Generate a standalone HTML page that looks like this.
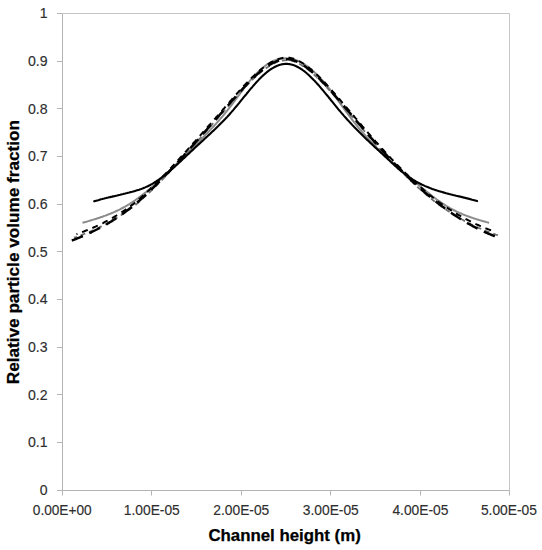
<!DOCTYPE html>
<html><head><meta charset="utf-8"><style>
html,body{margin:0;padding:0;background:#fff;}
body{width:542px;height:550px;overflow:hidden;}
svg{display:block;}
</style></head><body>
<svg width="542" height="550" viewBox="0 0 542 550">
<rect width="542" height="550" fill="#fff"/>
<path d="M62.5,13.5H509.5V490.5" fill="none" stroke="#c6c6c6" stroke-width="1"/>
<path d="M62.5,13.5V490.5H509.5" fill="none" stroke="#b4b4b4" stroke-width="1"/>
<path d="M57,490.5H62.5M57,442.5H62.5M57,394.5H62.5M57,347.5H62.5M57,299.5H62.5M57,251.5H62.5M57,204.5H62.5M57,156.5H62.5M57,108.5H62.5M57,61.5H62.5M57,13.5H62.5M62.5,490.5V495.5M151.5,490.5V495.5M241.5,490.5V495.5M330.5,490.5V495.5M420.5,490.5V495.5M509.5,490.5V495.5" fill="none" stroke="#b4b4b4" stroke-width="1"/>
<g font-family="&quot;Liberation Sans&quot;, sans-serif" font-size="14.8" fill="#2e2e2e" stroke="#2e2e2e" stroke-width="0.15"><text x="39.8" y="495.0" textLength="7.8" lengthAdjust="spacingAndGlyphs">0</text><text x="28.0" y="447.3" textLength="19.6" lengthAdjust="spacingAndGlyphs">0.1</text><text x="28.0" y="399.7" textLength="19.6" lengthAdjust="spacingAndGlyphs">0.2</text><text x="28.0" y="352.0" textLength="19.6" lengthAdjust="spacingAndGlyphs">0.3</text><text x="28.0" y="304.3" textLength="19.6" lengthAdjust="spacingAndGlyphs">0.4</text><text x="28.0" y="256.6" textLength="19.6" lengthAdjust="spacingAndGlyphs">0.5</text><text x="28.0" y="209.0" textLength="19.6" lengthAdjust="spacingAndGlyphs">0.6</text><text x="28.0" y="161.3" textLength="19.6" lengthAdjust="spacingAndGlyphs">0.7</text><text x="28.0" y="113.6" textLength="19.6" lengthAdjust="spacingAndGlyphs">0.8</text><text x="28.0" y="66.0" textLength="19.6" lengthAdjust="spacingAndGlyphs">0.9</text><text x="39.8" y="18.3" textLength="7.8" lengthAdjust="spacingAndGlyphs">1</text><text x="32.8" y="515.1" textLength="58.8" lengthAdjust="spacingAndGlyphs">0.00E+00</text><text x="123.8" y="515.1" textLength="56.0" lengthAdjust="spacingAndGlyphs">1.00E-05</text><text x="213.3" y="515.1" textLength="56.0" lengthAdjust="spacingAndGlyphs">2.00E-05</text><text x="302.8" y="515.1" textLength="56.0" lengthAdjust="spacingAndGlyphs">3.00E-05</text><text x="392.4" y="515.1" textLength="56.0" lengthAdjust="spacingAndGlyphs">4.00E-05</text><text x="480.9" y="515.1" textLength="56.0" lengthAdjust="spacingAndGlyphs">5.00E-05</text></g>
<text x="208.4" y="540.6" textLength="152.4" lengthAdjust="spacingAndGlyphs" font-family="&quot;Liberation Sans&quot;, sans-serif" font-weight="bold" font-size="16" fill="#000" stroke="#000" stroke-width="0.25">Channel height (m)</text>
<text transform="translate(19.3,384.2) rotate(-90)" x="0" y="0" textLength="264.2" lengthAdjust="spacingAndGlyphs" font-family="&quot;Liberation Sans&quot;, sans-serif" font-weight="bold" font-size="16.2" fill="#000" stroke="#000" stroke-width="0.25">Relative particle volume fraction</text>
<path d="M82.5,222.8L83.5,222.5L84.5,222.2L85.5,221.9L86.5,221.7L87.5,221.4L88.5,221.1L89.5,220.8L90.5,220.5L91.5,220.2L92.5,219.9L93.5,219.6L94.5,219.3L95.5,219.0L96.5,218.7L97.5,218.3L98.5,218.0L99.5,217.7L100.5,217.3L101.5,217.0L102.5,216.7L103.5,216.3L104.5,215.9L105.5,215.6L106.5,215.2L107.5,214.8L108.5,214.4L109.5,214.0L110.5,213.6L111.5,213.2L112.5,212.8L113.5,212.4L114.5,211.9L115.5,211.5L116.5,211.0L117.5,210.5L118.5,210.1L119.5,209.6L120.5,209.1L121.5,208.5L122.5,208.0L123.5,207.5L124.5,206.9L125.5,206.4L126.5,205.8L127.5,205.2L128.5,204.6L129.5,204.0L130.5,203.4L131.5,202.7L132.5,202.1L133.5,201.4L134.5,200.7L135.5,200.0L136.5,199.3L137.5,198.6L138.5,197.9L139.5,197.1L140.5,196.4L141.5,195.6L142.5,194.9L143.5,194.1L144.5,193.3L145.5,192.5L146.5,191.7L147.5,190.8L148.5,190.0L149.5,189.2L150.5,188.3L151.5,187.4L152.5,186.6L153.5,185.7L154.5,184.8L155.5,183.9L156.5,183.0L157.5,182.1L158.5,181.2L159.5,180.3L160.5,179.3L161.5,178.4L162.5,177.5L163.5,176.5L164.5,175.6L165.5,174.6L166.5,173.7L167.5,172.7L168.5,171.7L169.5,170.8L170.5,169.8L171.5,168.8L172.5,167.8L173.5,166.8L174.5,165.9L175.5,164.9L176.5,163.9L177.5,162.9L178.5,161.9L179.5,160.9L180.5,159.9L181.5,158.9L182.5,157.9L183.5,156.9L184.5,155.9L185.5,154.9L186.5,153.9L187.5,152.9L188.5,151.9L189.5,150.9L190.5,149.9L191.5,148.9L192.5,147.9L193.5,146.9L194.5,145.9L195.5,144.9L196.5,144.0L197.5,143.0L198.5,142.0L199.5,141.0L200.5,140.0L201.5,139.0L202.5,138.0L203.5,136.9L204.5,135.9L205.5,134.9L206.5,133.9L207.5,132.8L208.5,131.8L209.5,130.8L210.5,129.7L211.5,128.6L212.5,127.6L213.5,126.5L214.5,125.4L215.5,124.3L216.5,123.2L217.5,122.1L218.5,121.0L219.5,119.8L220.5,118.7L221.5,117.5L222.5,116.3L223.5,115.1L224.5,113.9L225.5,112.7L226.5,111.5L227.5,110.2L228.5,109.0L229.5,107.7L230.5,106.4L231.5,105.1L232.5,103.8L233.5,102.4L234.5,101.1L235.5,99.7L236.5,98.4L237.5,97.0L238.5,95.7L239.5,94.3L240.5,93.0L241.5,91.6L242.5,90.3L243.5,88.9L244.5,87.6L245.5,86.3L246.5,85.0L247.5,83.8L248.5,82.5L249.5,81.3L250.5,80.1L251.5,78.9L252.5,77.8L253.5,76.7L254.5,75.6L255.5,74.5L256.5,73.5L257.5,72.5L258.5,71.5L259.5,70.6L260.5,69.7L261.5,68.8L262.5,67.9L263.5,67.1L264.5,66.3L265.5,65.6L266.5,64.9L267.5,64.2L268.5,63.6L269.5,63.0L270.5,62.4L271.5,61.9L272.5,61.4L273.5,60.9L274.5,60.5L275.5,60.1L276.5,59.8L277.5,59.5L278.5,59.2L279.5,59.0L280.5,58.8L281.5,58.6L282.5,58.5L283.5,58.4L284.5,58.3L285.5,58.3L286.5,58.3L287.5,58.4L288.5,58.4L289.5,58.6L290.5,58.7L291.5,58.9L292.5,59.1L293.5,59.4L294.5,59.7L295.5,60.0L296.5,60.3L297.5,60.7L298.5,61.1L299.5,61.6L300.5,62.1L301.5,62.6L302.5,63.2L303.5,63.8L304.5,64.4L305.5,65.0L306.5,65.7L307.5,66.4L308.5,67.2L309.5,68.0L310.5,68.8L311.5,69.6L312.5,70.5L313.5,71.3L314.5,72.3L315.5,73.2L316.5,74.2L317.5,75.2L318.5,76.2L319.5,77.2L320.5,78.3L321.5,79.4L322.5,80.5L323.5,81.6L324.5,82.8L325.5,84.0L326.5,85.2L327.5,86.4L328.5,87.7L329.5,88.9L330.5,90.2L331.5,91.5L332.5,92.8L333.5,94.2L334.5,95.5L335.5,96.9L336.5,98.3L337.5,99.7L338.5,101.0L339.5,102.4L340.5,103.8L341.5,105.2L342.5,106.6L343.5,108.0L344.5,109.4L345.5,110.8L346.5,112.2L347.5,113.5L348.5,114.9L349.5,116.2L350.5,117.5L351.5,118.9L352.5,120.1L353.5,121.4L354.5,122.7L355.5,123.9L356.5,125.2L357.5,126.4L358.5,127.6L359.5,128.8L360.5,130.0L361.5,131.2L362.5,132.3L363.5,133.5L364.5,134.6L365.5,135.7L366.5,136.8L367.5,137.9L368.5,139.0L369.5,140.1L370.5,141.2L371.5,142.2L372.5,143.3L373.5,144.3L374.5,145.3L375.5,146.3L376.5,147.4L377.5,148.4L378.5,149.3L379.5,150.3L380.5,151.3L381.5,152.3L382.5,153.2L383.5,154.2L384.5,155.1L385.5,156.1L386.5,157.0L387.5,157.9L388.5,158.8L389.5,159.8L390.5,160.7L391.5,161.6L392.5,162.5L393.5,163.4L394.5,164.3L395.5,165.1L396.5,166.0L397.5,166.9L398.5,167.8L399.5,168.7L400.5,169.5L401.5,170.4L402.5,171.3L403.5,172.1L404.5,173.0L405.5,173.8L406.5,174.7L407.5,175.6L408.5,176.4L409.5,177.3L410.5,178.1L411.5,179.0L412.5,179.8L413.5,180.7L414.5,181.5L415.5,182.4L416.5,183.2L417.5,184.1L418.5,184.9L419.5,185.8L420.5,186.6L421.5,187.4L422.5,188.3L423.5,189.1L424.5,189.9L425.5,190.7L426.5,191.5L427.5,192.3L428.5,193.1L429.5,193.9L430.5,194.7L431.5,195.5L432.5,196.3L433.5,197.0L434.5,197.8L435.5,198.5L436.5,199.3L437.5,200.0L438.5,200.7L439.5,201.4L440.5,202.1L441.5,202.8L442.5,203.4L443.5,204.1L444.5,204.7L445.5,205.4L446.5,206.0L447.5,206.6L448.5,207.2L449.5,207.8L450.5,208.4L451.5,208.9L452.5,209.4L453.5,210.0L454.5,210.5L455.5,211.0L456.5,211.5L457.5,211.9L458.5,212.4L459.5,212.9L460.5,213.3L461.5,213.7L462.5,214.2L463.5,214.6L464.5,215.0L465.5,215.4L466.5,215.7L467.5,216.1L468.5,216.5L469.5,216.8L470.5,217.2L471.5,217.5L472.5,217.9L473.5,218.2L474.5,218.5L475.5,218.9L476.5,219.2L477.5,219.5L478.5,219.8L479.5,220.1L480.5,220.4L481.5,220.7L482.5,221.0L483.5,221.2L484.5,221.5L485.5,221.8L486.5,222.1L487.5,222.4L488.5,222.7L489.1,222.8" fill="none" stroke="#8c8c8c" stroke-width="2"/>
<path d="M74.0,237.7L75.0,237.3L76.0,237.0L77.0,236.6L78.0,236.3L79.0,235.9L80.0,235.5L81.0,235.2L82.0,234.8L83.0,234.4L84.0,234.0L85.0,233.6L86.0,233.2L87.0,232.8L88.0,232.4L89.0,232.0L90.0,231.6L91.0,231.2L92.0,230.7L93.0,230.3L94.0,229.9L95.0,229.4L96.0,229.0L97.0,228.5L98.0,228.0L99.0,227.6L100.0,227.1L101.0,226.6L102.0,226.1L103.0,225.6L104.0,225.1L105.0,224.6L106.0,224.1L107.0,223.5L108.0,223.0L109.0,222.5L110.0,221.9L111.0,221.4L112.0,220.8L113.0,220.2L114.0,219.6L115.0,219.0L116.0,218.4L117.0,217.8L118.0,217.2L119.0,216.6L120.0,215.9L121.0,215.3L122.0,214.6L123.0,214.0L124.0,213.3L125.0,212.6L126.0,211.9L127.0,211.2L128.0,210.5L129.0,209.8L130.0,209.1L131.0,208.3L132.0,207.6L133.0,206.8L134.0,206.1L135.0,205.3L136.0,204.5L137.0,203.6L138.0,202.8L139.0,201.9L140.0,201.0L141.0,200.1L142.0,199.2L143.0,198.3L144.0,197.4L145.0,196.5L146.0,195.6L147.0,194.7L148.0,193.7L149.0,192.8L150.0,191.8L151.0,190.9L152.0,189.9L153.0,188.9L154.0,188.0L155.0,187.0L156.0,186.0L157.0,185.0L158.0,184.0L159.0,183.0L160.0,182.0L161.0,180.9L162.0,179.9L163.0,178.9L164.0,177.8L165.0,176.8L166.0,175.8L167.0,174.7L168.0,173.6L169.0,172.6L170.0,171.5L171.0,170.4L172.0,169.4L173.0,168.3L174.0,167.2L175.0,166.1L176.0,165.0L177.0,164.0L178.0,162.9L179.0,161.8L180.0,160.7L181.0,159.6L182.0,158.5L183.0,157.3L184.0,156.2L185.0,155.1L186.0,154.0L187.0,152.9L188.0,151.8L189.0,150.7L190.0,149.5L191.0,148.4L192.0,147.3L193.0,146.2L194.0,145.0L195.0,143.9L196.0,142.8L197.0,141.7L198.0,140.5L199.0,139.4L200.0,138.3L201.0,137.1L202.0,136.0L203.0,134.9L204.0,133.7L205.0,132.6L206.0,131.5L207.0,130.3L208.0,129.2L209.0,128.1L210.0,126.9L211.0,125.8L212.0,124.7L213.0,123.5L214.0,122.4L215.0,121.2L216.0,120.1L217.0,119.0L218.0,117.8L219.0,116.7L220.0,115.5L221.0,114.4L222.0,113.2L223.0,112.1L224.0,111.0L225.0,109.8L226.0,108.7L227.0,107.5L228.0,106.4L229.0,105.2L230.0,104.1L231.0,103.0L232.0,101.8L233.0,100.7L234.0,99.5L235.0,98.4L236.0,97.3L237.0,96.1L238.0,95.0L239.0,93.9L240.0,92.8L241.0,91.7L242.0,90.6L243.0,89.5L244.0,88.4L245.0,87.3L246.0,86.3L247.0,85.2L248.0,84.2L249.0,83.2L250.0,82.1L251.0,81.1L252.0,80.2L253.0,79.2L254.0,78.2L255.0,77.3L256.0,76.4L257.0,75.5L258.0,74.6L259.0,73.7L260.0,72.9L261.0,72.0L262.0,71.2L263.0,70.4L264.0,69.7L265.0,68.9L266.0,68.2L267.0,67.5L268.0,66.9L269.0,66.2L270.0,65.6L271.0,65.0L272.0,64.5L273.0,63.9L274.0,63.4L275.0,63.0L276.0,62.5L277.0,62.1L278.0,61.8L279.0,61.4L280.0,61.1L281.0,60.9L282.0,60.7L283.0,60.5L284.0,60.4L285.0,60.3L286.0,60.2L287.0,60.2L288.0,60.3L289.0,60.4L290.0,60.5L291.0,60.7L292.0,60.9L293.0,61.2L294.0,61.5L295.0,61.9L296.0,62.3L297.0,62.7L298.0,63.2L299.0,63.7L300.0,64.3L301.0,64.8L302.0,65.4L303.0,66.1L304.0,66.7L305.0,67.4L306.0,68.1L307.0,68.8L308.0,69.6L309.0,70.4L310.0,71.2L311.0,72.0L312.0,72.8L313.0,73.7L314.0,74.6L315.0,75.5L316.0,76.4L317.0,77.4L318.0,78.3L319.0,79.3L320.0,80.3L321.0,81.3L322.0,82.3L323.0,83.3L324.0,84.4L325.0,85.5L326.0,86.5L327.0,87.6L328.0,88.7L329.0,89.8L330.0,90.9L331.0,92.1L332.0,93.2L333.0,94.3L334.0,95.5L335.0,96.6L336.0,97.8L337.0,98.9L338.0,100.1L339.0,101.3L340.0,102.4L341.0,103.6L342.0,104.8L343.0,105.9L344.0,107.1L345.0,108.3L346.0,109.5L347.0,110.6L348.0,111.8L349.0,113.0L350.0,114.2L351.0,115.4L352.0,116.5L353.0,117.7L354.0,118.9L355.0,120.1L356.0,121.3L357.0,122.4L358.0,123.6L359.0,124.8L360.0,125.9L361.0,127.1L362.0,128.3L363.0,129.5L364.0,130.6L365.0,131.8L366.0,133.0L367.0,134.1L368.0,135.3L369.0,136.4L370.0,137.6L371.0,138.7L372.0,139.9L373.0,141.0L374.0,142.2L375.0,143.3L376.0,144.4L377.0,145.6L378.0,146.7L379.0,147.8L380.0,148.9L381.0,150.0L382.0,151.2L383.0,152.3L384.0,153.4L385.0,154.5L386.0,155.6L387.0,156.6L388.0,157.7L389.0,158.8L390.0,159.9L391.0,160.9L392.0,162.0L393.0,163.0L394.0,164.1L395.0,165.1L396.0,166.2L397.0,167.2L398.0,168.2L399.0,169.2L400.0,170.2L401.0,171.2L402.0,172.2L403.0,173.2L404.0,174.2L405.0,175.2L406.0,176.2L407.0,177.2L408.0,178.1L409.0,179.1L410.0,180.0L411.0,181.0L412.0,181.9L413.0,182.8L414.0,183.8L415.0,184.7L416.0,185.6L417.0,186.5L418.0,187.4L419.0,188.3L420.0,189.2L421.0,190.1L422.0,191.0L423.0,191.8L424.0,192.7L425.0,193.6L426.0,194.4L427.0,195.3L428.0,196.1L429.0,196.9L430.0,197.8L431.0,198.6L432.0,199.4L433.0,200.2L434.0,201.0L435.0,201.8L436.0,202.6L437.0,203.3L438.0,204.0L439.0,204.7L440.0,205.4L441.0,206.2L442.0,206.9L443.0,207.5L444.0,208.2L445.0,208.9L446.0,209.6L447.0,210.3L448.0,210.9L449.0,211.6L450.0,212.2L451.0,212.9L452.0,213.5L453.0,214.1L454.0,214.7L455.0,215.4L456.0,216.0L457.0,216.6L458.0,217.2L459.0,217.8L460.0,218.3L461.0,218.9L462.0,219.5L463.0,220.0L464.0,220.6L465.0,221.1L466.0,221.7L467.0,222.2L468.0,222.7L469.0,223.3L470.0,223.8L471.0,224.3L472.0,224.8L473.0,225.3L474.0,225.7L475.0,226.2L476.0,226.7L477.0,227.2L478.0,227.6L479.0,228.1L480.0,228.5L481.0,228.9L482.0,229.4L483.0,229.8L484.0,230.2L485.0,230.6L486.0,231.0L487.0,231.4L488.0,231.8L489.0,232.2L490.0,232.5L491.0,232.9L492.0,233.3L493.0,233.6L494.0,233.9L495.0,234.3L496.0,234.7L497.0,235.0L498.0,235.4" fill="none" stroke="#707070" stroke-width="1.8" stroke-dasharray="5 4" stroke-dashoffset="2"/>
<path d="M76.5,234.2L77.5,233.8L78.5,233.5L79.5,233.1L80.5,232.7L81.5,232.4L82.5,232.0L83.5,231.6L84.5,231.2L85.5,230.8L86.5,230.4L87.5,230.0L88.5,229.6L89.5,229.2L90.5,228.8L91.5,228.4L92.5,227.9L93.5,227.5L94.5,227.0L95.5,226.6L96.5,226.1L97.5,225.7L98.5,225.2L99.5,224.7L100.5,224.2L101.5,223.8L102.5,223.3L103.5,222.8L104.5,222.2L105.5,221.7L106.5,221.2L107.5,220.7L108.5,220.1L109.5,219.6L110.5,219.0L111.5,218.5L112.5,217.9L113.5,217.3L114.5,216.7L115.5,216.1L116.5,215.5L117.5,214.9L118.5,214.3L119.5,213.7L120.5,213.0L121.5,212.4L122.5,211.7L123.5,211.1L124.5,210.4L125.5,209.7L126.5,209.0L127.5,208.3L128.5,207.6L129.5,206.9L130.5,206.1L131.5,205.4L132.5,204.6L133.5,203.9L134.5,203.1L135.5,202.3L136.5,201.4L137.5,200.6L138.5,199.7L139.5,198.9L140.5,198.0L141.5,197.1L142.5,196.2L143.5,195.3L144.5,194.4L145.5,193.5L146.5,192.5L147.5,191.6L148.5,190.7L149.5,189.7L150.5,188.8L151.5,187.8L152.5,186.8L153.5,185.9L154.5,184.9L155.5,183.9L156.5,182.9L157.5,181.9L158.5,180.9L159.5,179.9L160.5,178.9L161.5,177.8L162.5,176.8L163.5,175.8L164.5,174.7L165.5,173.7L166.5,172.6L167.5,171.6L168.5,170.5L169.5,169.5L170.5,168.4L171.5,167.3L172.5,166.2L173.5,165.2L174.5,164.1L175.5,163.0L176.5,161.9L177.5,160.8L178.5,159.7L179.5,158.6L180.5,157.5L181.5,156.4L182.5,155.3L183.5,154.2L184.5,153.1L185.5,152.0L186.5,150.9L187.5,149.7L188.5,148.6L189.5,147.5L190.5,146.4L191.5,145.3L192.5,144.1L193.5,143.0L194.5,141.9L195.5,140.8L196.5,139.6L197.5,138.5L198.5,137.4L199.5,136.2L200.5,135.1L201.5,134.0L202.5,132.8L203.5,131.7L204.5,130.6L205.5,129.4L206.5,128.3L207.5,127.2L208.5,126.0L209.5,124.9L210.5,123.8L211.5,122.6L212.5,121.5L213.5,120.3L214.5,119.2L215.5,118.1L216.5,116.9L217.5,115.8L218.5,114.6L219.5,113.5L220.5,112.4L221.5,111.2L222.5,110.1L223.5,108.9L224.5,107.8L225.5,106.6L226.5,105.5L227.5,104.4L228.5,103.2L229.5,102.1L230.5,100.9L231.5,99.8L232.5,98.6L233.5,97.5L234.5,96.4L235.5,95.2L236.5,94.1L237.5,93.0L238.5,91.9L239.5,90.7L240.5,89.6L241.5,88.5L242.5,87.4L243.5,86.3L244.5,85.3L245.5,84.2L246.5,83.1L247.5,82.1L248.5,81.1L249.5,80.1L250.5,79.0L251.5,78.0L252.5,77.1L253.5,76.1L254.5,75.2L255.5,74.2L256.5,73.3L257.5,72.4L258.5,71.5L259.5,70.7L260.5,69.8L261.5,69.0L262.5,68.2L263.5,67.5L264.5,66.7L265.5,66.0L266.5,65.3L267.5,64.6L268.5,63.9L269.5,63.3L270.5,62.7L271.5,62.1L272.5,61.6L273.5,61.1L274.5,60.6L275.5,60.1L276.5,59.7L277.5,59.3L278.5,59.0L279.5,58.7L280.5,58.4L281.5,58.2L282.5,58.0L283.5,57.8L284.5,57.7L285.5,57.6L286.5,57.6L287.5,57.6L288.5,57.7L289.5,57.8L290.5,58.0L291.5,58.2L292.5,58.5L293.5,58.8L294.5,59.1L295.5,59.5L296.5,59.9L297.5,60.4L298.5,60.9L299.5,61.4L300.5,61.9L301.5,62.5L302.5,63.1L303.5,63.8L304.5,64.5L305.5,65.1L306.5,65.9L307.5,66.6L308.5,67.4L309.5,68.2L310.5,69.0L311.5,69.8L312.5,70.7L313.5,71.5L314.5,72.4L315.5,73.3L316.5,74.3L317.5,75.2L318.5,76.2L319.5,77.2L320.5,78.2L321.5,79.2L322.5,80.2L323.5,81.3L324.5,82.3L325.5,83.4L326.5,84.5L327.5,85.6L328.5,86.7L329.5,87.8L330.5,88.9L331.5,90.0L332.5,91.2L333.5,92.3L334.5,93.4L335.5,94.6L336.5,95.8L337.5,96.9L338.5,98.1L339.5,99.2L340.5,100.4L341.5,101.6L342.5,102.8L343.5,103.9L344.5,105.1L345.5,106.3L346.5,107.5L347.5,108.6L348.5,109.8L349.5,111.0L350.5,112.2L351.5,113.4L352.5,114.5L353.5,115.7L354.5,116.9L355.5,118.1L356.5,119.2L357.5,120.4L358.5,121.6L359.5,122.8L360.5,123.9L361.5,125.1L362.5,126.3L363.5,127.4L364.5,128.6L365.5,129.8L366.5,130.9L367.5,132.1L368.5,133.3L369.5,134.4L370.5,135.6L371.5,136.7L372.5,137.9L373.5,139.0L374.5,140.1L375.5,141.3L376.5,142.4L377.5,143.5L378.5,144.7L379.5,145.8L380.5,146.9L381.5,148.0L382.5,149.1L383.5,150.2L384.5,151.3L385.5,152.4L386.5,153.5L387.5,154.6L388.5,155.7L389.5,156.7L390.5,157.8L391.5,158.9L392.5,159.9L393.5,161.0L394.5,162.0L395.5,163.0L396.5,164.1L397.5,165.1L398.5,166.1L399.5,167.1L400.5,168.1L401.5,169.1L402.5,170.1L403.5,171.1L404.5,172.1L405.5,173.1L406.5,174.1L407.5,175.0L408.5,176.0L409.5,176.9L410.5,177.9L411.5,178.8L412.5,179.8L413.5,180.7L414.5,181.6L415.5,182.5L416.5,183.5L417.5,184.4L418.5,185.3L419.5,186.2L420.5,187.0L421.5,187.9L422.5,188.8L423.5,189.7L424.5,190.5L425.5,191.4L426.5,192.2L427.5,193.1L428.5,193.9L429.5,194.8L430.5,195.6L431.5,196.4L432.5,197.2L433.5,198.0L434.5,198.8L435.5,199.6L436.5,200.3L437.5,201.0L438.5,201.8L439.5,202.5L440.5,203.2L441.5,203.9L442.5,204.6L443.5,205.3L444.5,206.0L445.5,206.7L446.5,207.3L447.5,208.0L448.5,208.6L449.5,209.3L450.5,209.9L451.5,210.6L452.5,211.2L453.5,211.8L454.5,212.5L455.5,213.1L456.5,213.7L457.5,214.3L458.5,214.9L459.5,215.4L460.5,216.0L461.5,216.6L462.5,217.2L463.5,217.7L464.5,218.3L465.5,218.8L466.5,219.3L467.5,219.9L468.5,220.4L469.5,220.9L470.5,221.4L471.5,221.9L472.5,222.4L473.5,222.9L474.5,223.4L475.5,223.9L476.5,224.3L477.5,224.8L478.5,225.2L479.5,225.7L480.5,226.1L481.5,226.6L482.5,227.0L483.5,227.4L484.5,227.8L485.5,228.2L486.5,228.6L487.5,229.0L488.5,229.4L489.5,229.7L490.5,230.1L491.5,230.5L492.5,230.8L493.5,231.2L494.5,231.5L495.5,231.9" fill="none" stroke="#000" stroke-width="2" stroke-dasharray="6 5" stroke-dashoffset="5"/>
<path d="M71.8,240.6L72.8,240.2L73.8,239.8L74.8,239.4L75.8,239.0L76.8,238.6L77.8,238.2L78.8,237.8L79.8,237.4L80.8,236.9L81.8,236.5L82.8,236.1L83.8,235.7L84.8,235.2L85.8,234.8L86.8,234.3L87.8,233.9L88.8,233.4L89.8,232.9L90.8,232.5L91.8,232.0L92.8,231.5L93.8,231.0L94.8,230.5L95.8,230.0L96.8,229.5L97.8,229.0L98.8,228.5L99.8,227.9L100.8,227.4L101.8,226.9L102.8,226.3L103.8,225.8L104.8,225.2L105.8,224.6L106.8,224.1L107.8,223.5L108.8,222.9L109.8,222.3L110.8,221.7L111.8,221.1L112.8,220.4L113.8,219.8L114.8,219.2L115.8,218.5L116.8,217.9L117.8,217.2L118.8,216.5L119.8,215.8L120.8,215.1L121.8,214.4L122.8,213.7L123.8,213.0L124.8,212.3L125.8,211.5L126.8,210.8L127.8,210.0L128.8,209.3L129.8,208.5L130.8,207.7L131.8,206.9L132.8,206.1L133.8,205.3L134.8,204.5L135.8,203.6L136.8,202.8L137.8,201.9L138.8,201.1L139.8,200.2L140.8,199.3L141.8,198.4L142.8,197.5L143.8,196.6L144.8,195.7L145.8,194.8L146.8,193.9L147.8,192.9L148.8,192.0L149.8,191.0L150.8,190.1L151.8,189.1L152.8,188.1L153.8,187.2L154.8,186.2L155.8,185.2L156.8,184.2L157.8,183.2L158.8,182.2L159.8,181.2L160.8,180.1L161.8,179.1L162.8,178.1L163.8,177.1L164.8,176.0L165.8,175.0L166.8,173.9L167.8,172.9L168.8,171.8L169.8,170.7L170.8,169.7L171.8,168.6L172.8,167.5L173.8,166.4L174.8,165.3L175.8,164.3L176.8,163.2L177.8,162.1L178.8,161.0L179.8,159.9L180.8,158.8L181.8,157.7L182.8,156.6L183.8,155.5L184.8,154.3L185.8,153.2L186.8,152.1L187.8,151.0L188.8,149.9L189.8,148.8L190.8,147.6L191.8,146.5L192.8,145.4L193.8,144.3L194.8,143.1L195.8,142.0L196.8,140.9L197.8,139.8L198.8,138.6L199.8,137.5L200.8,136.4L201.8,135.2L202.8,134.1L203.8,133.0L204.8,131.8L205.8,130.7L206.8,129.6L207.8,128.4L208.8,127.3L209.8,126.2L210.8,125.0L211.8,123.9L212.8,122.7L213.8,121.6L214.8,120.5L215.8,119.3L216.8,118.2L217.8,117.0L218.8,115.9L219.8,114.8L220.8,113.6L221.8,112.5L222.8,111.3L223.8,110.2L224.8,109.0L225.8,107.9L226.8,106.8L227.8,105.6L228.8,104.5L229.8,103.3L230.8,102.2L231.8,101.0L232.8,99.9L233.8,98.8L234.8,97.6L235.8,96.5L236.8,95.4L237.8,94.2L238.8,93.1L239.8,92.0L240.8,90.9L241.8,89.8L242.8,88.7L243.8,87.6L244.8,86.5L245.8,85.5L246.8,84.4L247.8,83.4L248.8,82.4L249.8,81.3L250.8,80.3L251.8,79.4L252.8,78.4L253.8,77.4L254.8,76.5L255.8,75.6L256.8,74.6L257.8,73.8L258.8,72.9L259.8,72.0L260.8,71.2L261.8,70.4L262.8,69.6L263.8,68.8L264.8,68.1L265.8,67.4L266.8,66.7L267.8,66.0L268.8,65.4L269.8,64.7L270.8,64.1L271.8,63.6L272.8,63.0L273.8,62.5L274.8,62.1L275.8,61.6L276.8,61.2L277.8,60.8L278.8,60.5L279.8,60.2L280.8,59.9L281.8,59.7L282.8,59.5L283.8,59.4L284.8,59.3L285.8,59.2L286.8,59.2L287.8,59.3L288.8,59.3L289.8,59.5L290.8,59.6L291.8,59.9L292.8,60.1L293.8,60.5L294.8,60.8L295.8,61.2L296.8,61.6L297.8,62.1L298.8,62.6L299.8,63.2L300.8,63.7L301.8,64.3L302.8,64.9L303.8,65.6L304.8,66.3L305.8,67.0L306.8,67.7L307.8,68.4L308.8,69.2L309.8,70.0L310.8,70.8L311.8,71.7L312.8,72.5L313.8,73.4L314.8,74.3L315.8,75.2L316.8,76.2L317.8,77.1L318.8,78.1L319.8,79.1L320.8,80.1L321.8,81.1L322.8,82.1L323.8,83.2L324.8,84.2L325.8,85.3L326.8,86.4L327.8,87.5L328.8,88.6L329.8,89.7L330.8,90.8L331.8,92.0L332.8,93.1L333.8,94.2L334.8,95.4L335.8,96.5L336.8,97.7L337.8,98.9L338.8,100.0L339.8,101.2L340.8,102.4L341.8,103.5L342.8,104.7L343.8,105.9L344.8,107.1L345.8,108.2L346.8,109.4L347.8,110.6L348.8,111.8L349.8,112.9L350.8,114.1L351.8,115.3L352.8,116.5L353.8,117.7L354.8,118.8L355.8,120.0L356.8,121.2L357.8,122.4L358.8,123.5L359.8,124.7L360.8,125.9L361.8,127.1L362.8,128.2L363.8,129.4L364.8,130.6L365.8,131.7L366.8,132.9L367.8,134.0L368.8,135.2L369.8,136.4L370.8,137.5L371.8,138.7L372.8,139.8L373.8,140.9L374.8,142.1L375.8,143.2L376.8,144.3L377.8,145.5L378.8,146.6L379.8,147.7L380.8,148.8L381.8,149.9L382.8,151.0L383.8,152.1L384.8,153.2L385.8,154.3L386.8,155.4L387.8,156.5L388.8,157.6L389.8,158.6L390.8,159.7L391.8,160.8L392.8,161.8L393.8,162.9L394.8,163.9L395.8,165.0L396.8,166.0L397.8,167.0L398.8,168.0L399.8,169.0L400.8,170.0L401.8,171.0L402.8,172.0L403.8,173.0L404.8,174.0L405.8,175.0L406.8,176.0L407.8,176.9L408.8,177.9L409.8,178.8L410.8,179.8L411.8,180.7L412.8,181.7L413.8,182.6L414.8,183.5L415.8,184.4L416.8,185.3L417.8,186.2L418.8,187.1L419.8,188.0L420.8,188.9L421.8,189.8L422.8,190.7L423.8,191.5L424.8,192.4L425.8,193.2L426.8,194.1L427.8,194.9L428.8,195.8L429.8,196.6L430.8,197.4L431.8,198.2L432.8,199.1L433.8,199.9L434.8,200.7L435.8,201.4L436.8,202.2L437.8,203.0L438.8,203.8L439.8,204.5L440.8,205.3L441.8,206.1L442.8,206.8L443.8,207.5L444.8,208.3L445.8,209.0L446.8,209.7L447.8,210.4L448.8,211.1L449.8,211.8L450.8,212.5L451.8,213.2L452.8,213.9L453.8,214.6L454.8,215.2L455.8,215.9L456.8,216.5L457.8,217.2L458.8,217.8L459.8,218.5L460.8,219.1L461.8,219.7L462.8,220.3L463.8,220.9L464.8,221.5L465.8,222.1L466.8,222.7L467.8,223.3L468.8,223.8L469.8,224.4L470.8,225.0L471.8,225.5L472.8,226.1L473.8,226.6L474.8,227.1L475.8,227.6L476.8,228.2L477.8,228.7L478.8,229.2L479.8,229.7L480.8,230.1L481.8,230.6L482.8,231.1L483.8,231.6L484.8,232.0L485.8,232.5L486.8,232.9L487.8,233.3L488.8,233.8L489.8,234.2L490.8,234.6L491.8,235.0L492.8,235.4L493.8,235.8L494.8,236.2L495.8,236.6L496.8,236.9L497.8,237.3L498.8,237.7L499.0,237.7" fill="none" stroke="#000" stroke-width="2.5" stroke-dasharray="12 7"/>
<path d="M94.2,201.3L95.2,201.0L96.2,200.7L97.2,200.4L98.2,200.2L99.2,199.9L100.2,199.6L101.2,199.3L102.2,199.1L103.2,198.8L104.2,198.6L105.2,198.3L106.2,198.1L107.2,197.8L108.2,197.6L109.2,197.3L110.2,197.1L111.2,196.9L112.2,196.6L113.2,196.4L114.2,196.2L115.2,195.9L116.2,195.7L117.2,195.5L118.2,195.2L119.2,195.0L120.2,194.8L121.2,194.5L122.2,194.3L123.2,194.1L124.2,193.8L125.2,193.6L126.2,193.3L127.2,193.1L128.2,192.8L129.2,192.6L130.2,192.3L131.2,192.0L132.2,191.8L133.2,191.5L134.2,191.2L135.2,190.9L136.2,190.6L137.2,190.3L138.2,190.0L139.2,189.7L140.2,189.3L141.2,189.0L142.2,188.6L143.2,188.2L144.2,187.8L145.2,187.4L146.2,186.9L147.2,186.5L148.2,186.0L149.2,185.5L150.2,185.0L151.2,184.4L152.2,183.9L153.2,183.3L154.2,182.7L155.2,182.0L156.2,181.4L157.2,180.7L158.2,180.0L159.2,179.3L160.2,178.6L161.2,177.9L162.2,177.1L163.2,176.4L164.2,175.6L165.2,174.8L166.2,174.0L167.2,173.2L168.2,172.3L169.2,171.5L170.2,170.6L171.2,169.8L172.2,168.9L173.2,168.0L174.2,167.1L175.2,166.2L176.2,165.3L177.2,164.4L178.2,163.5L179.2,162.5L180.2,161.6L181.2,160.7L182.2,159.7L183.2,158.8L184.2,157.9L185.2,156.9L186.2,156.0L187.2,155.1L188.2,154.1L189.2,153.2L190.2,152.2L191.2,151.3L192.2,150.4L193.2,149.4L194.2,148.5L195.2,147.6L196.2,146.6L197.2,145.7L198.2,144.8L199.2,143.9L200.2,142.9L201.2,142.0L202.2,141.1L203.2,140.2L204.2,139.2L205.2,138.3L206.2,137.4L207.2,136.5L208.2,135.5L209.2,134.6L210.2,133.7L211.2,132.7L212.2,131.8L213.2,130.9L214.2,129.9L215.2,129.0L216.2,128.0L217.2,127.0L218.2,126.1L219.2,125.1L220.2,124.1L221.2,123.1L222.2,122.1L223.2,121.1L224.2,120.0L225.2,119.0L226.2,117.9L227.2,116.9L228.2,115.8L229.2,114.7L230.2,113.5L231.2,112.4L232.2,111.2L233.2,110.1L234.2,108.9L235.2,107.7L236.2,106.5L237.2,105.3L238.2,104.1L239.2,102.9L240.2,101.6L241.2,100.4L242.2,99.2L243.2,97.9L244.2,96.7L245.2,95.5L246.2,94.3L247.2,93.0L248.2,91.8L249.2,90.6L250.2,89.4L251.2,88.2L252.2,87.1L253.2,85.9L254.2,84.8L255.2,83.6L256.2,82.5L257.2,81.4L258.2,80.4L259.2,79.3L260.2,78.3L261.2,77.3L262.2,76.3L263.2,75.4L264.2,74.5L265.2,73.6L266.2,72.7L267.2,71.9L268.2,71.1L269.2,70.4L270.2,69.7L271.2,69.0L272.2,68.4L273.2,67.8L274.2,67.2L275.2,66.7L276.2,66.2L277.2,65.8L278.2,65.4L279.2,65.1L280.2,64.8L281.2,64.5L282.2,64.3L283.2,64.1L284.2,64.0L285.2,63.9L286.2,63.9L287.2,63.9L288.2,64.0L289.2,64.1L290.2,64.3L291.2,64.5L292.2,64.7L293.2,65.0L294.2,65.4L295.2,65.8L296.2,66.2L297.2,66.7L298.2,67.2L299.2,67.8L300.2,68.4L301.2,69.1L302.2,69.7L303.2,70.5L304.2,71.2L305.2,72.0L306.2,72.8L307.2,73.7L308.2,74.5L309.2,75.5L310.2,76.4L311.2,77.4L312.2,78.4L313.2,79.4L314.2,80.4L315.2,81.5L316.2,82.6L317.2,83.7L318.2,84.8L319.2,85.9L320.2,87.1L321.2,88.3L322.2,89.5L323.2,90.6L324.2,91.9L325.2,93.1L326.2,94.3L327.2,95.5L328.2,96.7L329.2,98.0L330.2,99.2L331.2,100.5L332.2,101.7L333.2,102.9L334.2,104.2L335.2,105.4L336.2,106.6L337.2,107.8L338.2,109.1L339.2,110.3L340.2,111.4L341.2,112.6L342.2,113.8L343.2,114.9L344.2,116.1L345.2,117.2L346.2,118.3L347.2,119.5L348.2,120.6L349.2,121.6L350.2,122.7L351.2,123.8L352.2,124.9L353.2,125.9L354.2,127.0L355.2,128.0L356.2,129.0L357.2,130.0L358.2,131.0L359.2,132.1L360.2,133.0L361.2,134.0L362.2,135.0L363.2,136.0L364.2,137.0L365.2,137.9L366.2,138.9L367.2,139.9L368.2,140.8L369.2,141.7L370.2,142.7L371.2,143.6L372.2,144.6L373.2,145.5L374.2,146.4L375.2,147.4L376.2,148.3L377.2,149.2L378.2,150.1L379.2,151.1L380.2,152.0L381.2,152.9L382.2,153.8L383.2,154.8L384.2,155.7L385.2,156.6L386.2,157.5L387.2,158.5L388.2,159.4L389.2,160.3L390.2,161.2L391.2,162.2L392.2,163.1L393.2,164.0L394.2,164.9L395.2,165.9L396.2,166.8L397.2,167.7L398.2,168.6L399.2,169.4L400.2,170.3L401.2,171.1L402.2,172.0L403.2,172.8L404.2,173.6L405.2,174.3L406.2,175.1L407.2,175.8L408.2,176.5L409.2,177.2L410.2,177.9L411.2,178.5L412.2,179.2L413.2,179.8L414.2,180.4L415.2,181.0L416.2,181.6L417.2,182.1L418.2,182.7L419.2,183.2L420.2,183.7L421.2,184.2L422.2,184.7L423.2,185.1L424.2,185.6L425.2,186.1L426.2,186.5L427.2,186.9L428.2,187.3L429.2,187.7L430.2,188.1L431.2,188.5L432.2,188.9L433.2,189.2L434.2,189.6L435.2,189.9L436.2,190.2L437.2,190.6L438.2,190.9L439.2,191.2L440.2,191.5L441.2,191.8L442.2,192.1L443.2,192.4L444.2,192.6L445.2,192.9L446.2,193.2L447.2,193.4L448.2,193.7L449.2,194.0L450.2,194.2L451.2,194.5L452.2,194.7L453.2,195.0L454.2,195.2L455.2,195.4L456.2,195.7L457.2,195.9L458.2,196.2L459.2,196.4L460.2,196.6L461.2,196.9L462.2,197.1L463.2,197.4L464.2,197.6L465.2,197.9L466.2,198.1L467.2,198.4L468.2,198.6L469.2,198.9L470.2,199.1L471.2,199.4L472.2,199.7L473.2,199.9L474.2,200.2L475.2,200.5L476.2,200.8L477.0,201.1" fill="none" stroke="#000" stroke-width="2.1" stroke-linecap="round"/>
</svg>
</body></html>
